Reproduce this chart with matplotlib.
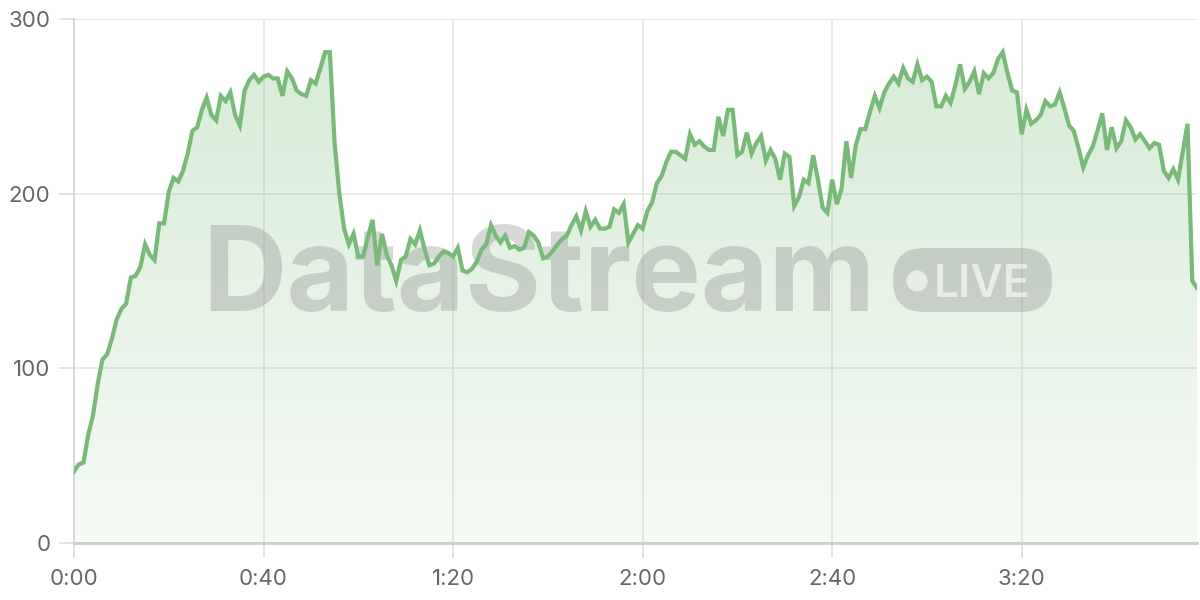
import numpy as np
import matplotlib
matplotlib.use("Agg")
import matplotlib.pyplot as plt
from matplotlib.ticker import FuncFormatter
from matplotlib.patches import FancyBboxPatch, Ellipse
from matplotlib.colors import LinearSegmentedColormap

plt.rcParams['font.family'] = ['Inter', 'DejaVu Sans']

# one sample per second, 0:00 .. 3:57
values = [
    41, 45, 46, 62, 73, 91, 105, 108, 117, 128,
    134, 137, 152, 153, 158, 171, 165, 162, 183, 183,
    201, 209, 207, 213, 223, 236, 238, 248, 255, 245,
    242, 256, 253, 258, 245, 239, 259, 265, 268, 264,
    267, 268, 266, 266, 256, 270, 266, 259, 257, 256,
    265, 263, 272, 281, 281, 229, 200, 180, 171, 177,
    164, 164, 175, 185, 159, 177, 165, 159, 150, 162,
    164, 174, 171, 179, 168, 159, 160, 164, 167, 166,
    164, 169, 156, 155, 157, 161, 168, 171, 182, 176,
    172, 176, 169, 170, 168, 169, 178, 176, 172, 163,
    164, 167, 171, 174, 176, 182, 187, 179, 190, 181,
    185, 180, 180, 181, 191, 189, 194, 172, 177, 182,
    180, 190, 195, 206, 210, 218, 224, 224, 222, 220,
    234, 228, 230, 227, 225, 225, 244, 233, 248, 248,
    222, 224, 235, 223, 229, 233, 219, 225, 220, 208,
    223, 221, 193, 198, 208, 206, 222, 208, 192, 189,
    208, 194, 203, 230, 209, 228, 237, 237, 247, 256,
    249, 258, 263, 267, 263, 272, 266, 264, 274, 265,
    267, 264, 250, 250, 256, 252, 262, 274, 260, 264,
    270, 257, 269, 266, 269, 277, 281, 269, 259, 258,
    234, 248, 240, 242, 245, 253, 250, 251, 258, 249,
    239, 236, 226, 215, 222, 227, 236, 246, 225, 238,
    226, 230, 242, 238, 231, 234, 230, 226, 229, 228,
    213, 209, 214, 208, 224, 240, 150, 146,
]
seconds = np.arange(len(values))
x_ticks = [0, 40, 80, 120, 160, 200]
y_ticks = [0, 100, 200, 300]

line_color = '#77bb77'
text_color = '#666666'

fig = plt.figure(figsize=(12, 6), dpi=100)
ax = fig.add_axes([74 / 1200, 57 / 600, 1123 / 1200, 524 / 600])

# gradient fill under the line
fill = ax.fill_between(seconds, values, 0, color='none', lw=0)
cmap = LinearSegmentedColormap.from_list(
    'g', [(0.467, 0.733, 0.467, 0.07), (0.467, 0.733, 0.467, 0.30)])
grad = np.linspace(0, 1, 256).reshape(-1, 1)
img = ax.imshow(grad, cmap=cmap, origin='lower', aspect='auto',
                extent=[0, seconds[-1], 0, 290], zorder=1)
img.set_clip_path(fill.get_paths()[0], transform=ax.transData)

ax.plot(seconds, values, color=line_color, lw=3, zorder=4,
        solid_joinstyle='miter')

# watermark
wm = '#808080'
wm_alpha = 0.3
ax.text(202 / 1200, 1 - 311 / 600, 'DataStream', transform=fig.transFigure,
        fontsize=84, fontweight='bold', color=wm, alpha=wm_alpha,
        ha='left', va='baseline', zorder=3, clip_on=False)
badge = FancyBboxPatch((893 / 1200, 1 - 312 / 600), 159 / 1200, 64 / 600,
                       boxstyle='round,pad=0,rounding_size=0.026',
                       mutation_aspect=2, transform=fig.transFigure,
                       facecolor=wm, edgecolor='none', alpha=wm_alpha, zorder=3)
ax.add_artist(badge)
ax.add_artist(Ellipse((917 / 1200, 1 - 281 / 600), 21 / 1200, 21 / 600,
                      transform=fig.transFigure, facecolor='white',
                      edgecolor='none', alpha=0.6, zorder=3))
ax.text(934 / 1200, 1 - 297 / 600, 'LIVE', transform=fig.transFigure,
        fontsize=32, fontweight='semibold', color='white', alpha=0.6,
        ha='left', va='baseline', zorder=3)

ax.set_xlim(0, seconds[-1])
ax.set_ylim(0, 300)
ax.set_xticks(x_ticks)
ax.set_yticks(y_ticks)
ax.xaxis.set_major_formatter(FuncFormatter(lambda v, p: f"{int(v) // 60}:{int(v) % 60:02d}"))
ax.grid(True, color='#e8e8e8', lw=1.3, zorder=0)
ax.set_axisbelow(True)
for s in ['top', 'right']:
    ax.spines[s].set_visible(False)
ax.spines['left'].set_color('#d6d6d6')
ax.spines['left'].set_linewidth(1.3)
ax.spines['bottom'].set_color('#cccccc')
ax.spines['bottom'].set_linewidth(2)
ax.tick_params(axis='both', colors='#e0e0e0', length=11, width=1.3,
               labelcolor=text_color, labelsize=16)
ax.tick_params(axis='x', pad=8)
ax.tick_params(axis='y', pad=6)

fig.savefig('out.png', dpi=100)
